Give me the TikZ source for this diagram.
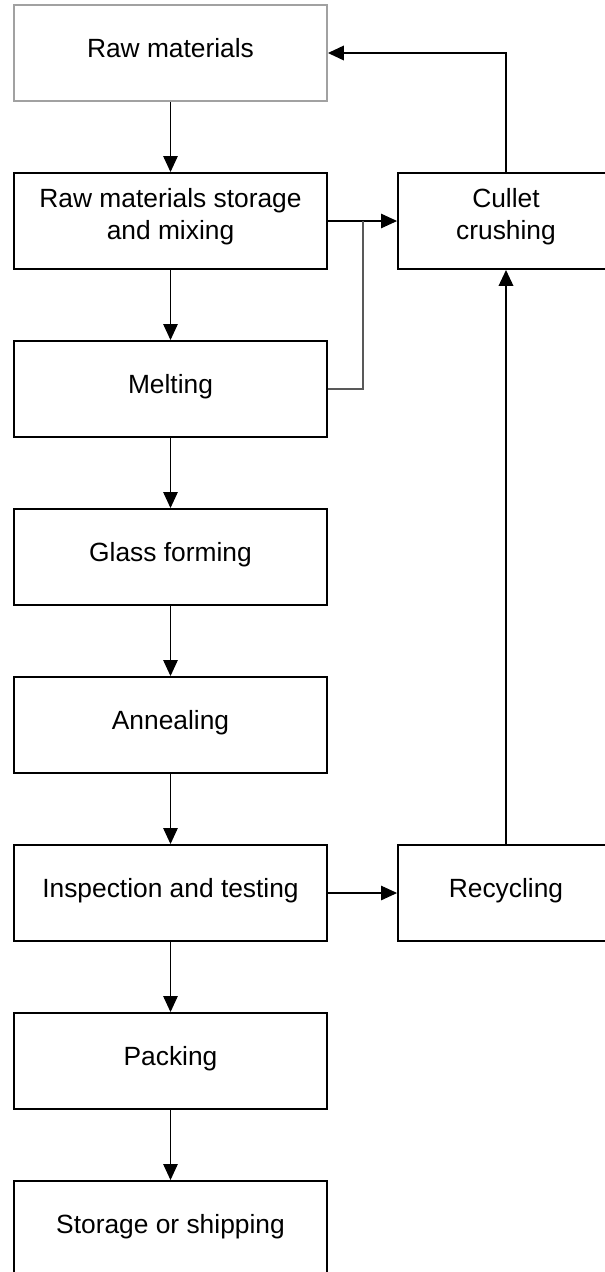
\documentclass[tikz,border=0pt]{standalone}
\usepackage{fontspec}
\setmainfont{Liberation Sans}
\usetikzlibrary{arrows.meta}
\definecolor{rawgray}{gray}{0.63}
\definecolor{joingray}{gray}{0.35}
\tikzset{
  stagebox/.style={draw, line width = 1.1pt, minimum width = 6.26cm, minimum height = 1.92cm, inner sep = 0pt},
  sidebox/.style={stagebox, minimum width = 4.32cm},
  stagetext/.style={font=\fontsize{15}{18.2}\selectfont, align=center, inner sep = 0pt},
  flow/.style={-{Triangle[length=0.32cm, width=0.29cm]}, line width = 0.6pt},
  backflow/.style={flow, line width = 1.1pt}
}
\begin{document}
\begin{tikzpicture}[x=0.02cm, y=-0.02cm]
\useasboundingbox (0,0) rectangle (605,1272);
\clip (0,0) rectangle (605,1272);

% Draw the main stages
\node[stagebox, draw=rawgray] (raw) at (170.5,53) {};
\node[stagebox] (mix) at (170.5,221) {};
\node[stagebox] (melt) at (170.5,389) {};
\node[stagebox] (form) at (170.5,557) {};
\node[stagebox] (anneal) at (170.5,725) {};
\node[stagebox] (inspect) at (170.5,893) {};
\node[stagebox] (pack) at (170.5,1061) {};
\node[stagebox] (ship) at (170.5,1229) {};

% Draw the side stages
\node[sidebox] (cullet) at (506,221) {};
\node[sidebox] (recycle) at (506,893) {};

% Label the stages
\node[stagetext, anchor=base] (raw-t) at ([yshift=-0.08cm]raw.center) {Raw materials};
\node[stagetext] (mix-t) at ([yshift=0.096cm]mix.center) {Raw materials storage\\and mixing};
\node[stagetext, anchor=base] (melt-t) at ([yshift=-0.08cm]melt.center) {Melting};
\node[stagetext, anchor=base] (form-t) at ([yshift=-0.08cm]form.center) {Glass forming};
\node[stagetext, anchor=base] (anneal-t) at ([yshift=-0.08cm]anneal.center) {Annealing};
\node[stagetext, anchor=base] (inspect-t) at ([yshift=-0.08cm]inspect.center) {Inspection and testing};
\node[stagetext, anchor=base] (pack-t) at ([yshift=-0.08cm]pack.center) {Packing};
\node[stagetext, anchor=base] (ship-t) at ([yshift=-0.08cm]ship.center) {Storage or shipping};
\node[stagetext] (cullet-t) at ([yshift=0.096cm]cullet.center) {Cullet\\crushing};
\node[stagetext, anchor=base] (recycle-t) at ([yshift=-0.08cm]recycle.center) {Recycling};

% Draw the main flow
\draw[flow] (raw) -- (mix);
\draw[flow] (mix) -- (melt);
\draw[flow] (melt) -- (form);
\draw[flow] (form) -- (anneal);
\draw[flow] (anneal) -- (inspect);
\draw[flow] (inspect) -- (pack);
\draw[flow] (pack) -- (ship);

% Draw the cullet loop
\coordinate (join) at (363,221);
\draw[flow] (mix.east) -- (cullet.west);
\draw[joingray, line width = 0.6pt] (melt.east) -| (join);
\draw[flow] (inspect.east) -- (recycle.west);
\draw[backflow] (recycle.north) -- (cullet.south);
\draw[backflow] (cullet.north) |- (raw.east);
\end{tikzpicture}
\end{document}
